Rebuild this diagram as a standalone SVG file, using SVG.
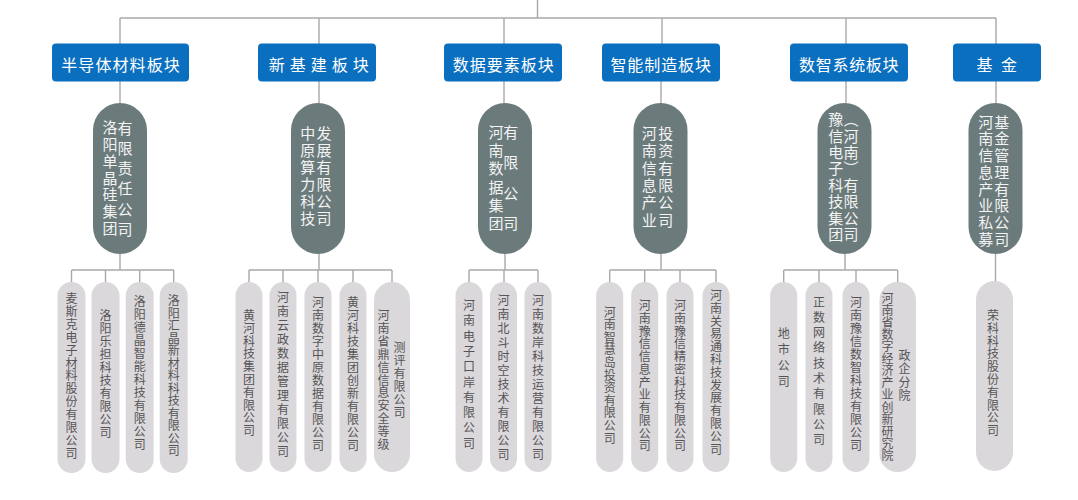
<svg xmlns="http://www.w3.org/2000/svg" width="1078" height="500" viewBox="0 0 1078 500">
<style>
.bg{fill:#ffffff}
.conn{stroke:#a9a9a9;stroke-width:1.4;fill:none}
.hdr rect{fill:#0b6fbf}
.hdr text{fill:#ffffff;font-family:"Noto Sans CJK SC","Noto Sans",sans-serif;font-size:16px;text-anchor:middle;dominant-baseline:central}
.mid rect{fill:#6b7b7b}
.mid text{fill:#f3f3f3;font-family:"Noto Sans CJK SC","Noto Sans",sans-serif;font-size:15px;writing-mode:vertical-rl}
.leaf rect{fill:#dbd8dc}
.leaf text{fill:#555555;font-family:"Noto Sans CJK SC","Noto Sans",sans-serif;font-size:12px;writing-mode:vertical-rl}
</style>
<rect class="bg" x="0" y="0" width="1078" height="500"/>
<g id="connectors">
<path class="conn" d="M537.5 0V18M120 18H996M120 18V44M319 18V44M504 18V44M662 18V44M846 18V44M996 18V44"/>
<path class="conn" d="M120 81V103M319 81V103M504 81V103M661 81V103M846 81V103M996 81V103"/>
<path class="conn" d="M120 254V270M71.5 270H173.7M71.5 270V282M105.5 270V282M139.7 270V282M173.7 270V282"/>
<path class="conn" d="M319 254V270M249 270H392M249 270V282M283 270V282M318 270V282M353 270V282M392 270V282"/>
<path class="conn" d="M505 254V270M469 270H538M469 270V282M504 270V282M538 270V282"/>
<path class="conn" d="M661 254V270M609.7 270H716M609.7 270V282M644.7 270V282M680 270V282M716 270V282"/>
<path class="conn" d="M845 254V270M783.7 270H897.7M783.7 270V282M819 270V282M856 270V282M897.7 270V282"/>
<path class="conn" d="M995.5 254V282"/>
</g>
<g id="h1" class="hdr"><rect x="52" y="43.5" width="137" height="38" rx="4"/><text x="120.5" y="63.5" textLength="118.5" lengthAdjust="spacing">半导体材料板块</text></g>
<g id="h2" class="hdr"><rect x="258" y="43.5" width="118" height="38" rx="4"/><text x="318.8" y="63.5" textLength="100" lengthAdjust="spacing">新 基 建 板 块</text></g>
<g id="h3" class="hdr"><rect x="444" y="43.5" width="118" height="38" rx="4"/><text x="503.3" y="63.5" textLength="101" lengthAdjust="spacing">数据要素板块</text></g>
<g id="h4" class="hdr"><rect x="602" y="43.5" width="118" height="38" rx="4"/><text x="660.7" y="63.5" textLength="100.5" lengthAdjust="spacing">智能制造板块</text></g>
<g id="h5" class="hdr"><rect x="790" y="43.5" width="118" height="38" rx="4"/><text x="848.8" y="63.5" textLength="99.6" lengthAdjust="spacing">数智系统板块</text></g>
<g id="h6" class="hdr"><rect x="953" y="43.5" width="88" height="38" rx="4"/><text x="996.8" y="63.5" textLength="40.5" lengthAdjust="spacing">基 金</text></g>

<g id="m1" class="mid"><rect x="93" y="103" width="54" height="151" rx="27"/><text x="110" y="119.5" style="letter-spacing:1.95px">洛阳单晶硅集团</text><text x="125" y="121" style="letter-spacing:5.1px">有限责任公司</text></g>
<g id="m2" class="mid"><rect x="291" y="103" width="54" height="151" rx="27"/><text x="307.7" y="126" style="letter-spacing:2px">中原算力科技</text><text x="324" y="126" style="letter-spacing:2px">发展有限公司</text></g>
<g id="m3" class="mid"><rect x="478" y="103" width="54" height="151" rx="27"/><text x="496" y="124.5" style="letter-spacing:3.3px">河南数据集团</text><text x="510.7" y="124.5" style="letter-spacing:15.6px">有限公司</text></g>
<g id="m4" class="mid"><rect x="633.5" y="103" width="54" height="151" rx="27"/><text x="649.3" y="126" style="letter-spacing:2.3px">河南信息产业</text><text x="665.7" y="126" style="letter-spacing:2.3px">投资有限公司</text></g>
<g id="m5" class="mid"><rect x="817.5" y="103" width="54" height="151" rx="27"/><text x="835.7" y="112" style="letter-spacing:1.4px">豫信电子科技集团</text><text x="851" y="112" style="letter-spacing:1.4px">（河南）有限公司</text></g>
<g id="m6" class="mid"><rect x="968.5" y="103" width="54" height="151" rx="27"/><text x="985.7" y="114.5" style="letter-spacing:1.76px">河南信息产业私募</text><text x="1001.7" y="114.5" style="letter-spacing:1.76px">基金管理有限公司</text></g>

<g id="l1a" class="leaf"><rect x="57.5" y="282" width="28" height="191" rx="14"/><text x="71.5" y="292.5" style="letter-spacing:0.9px">麦斯克电子材料股份有限公司</text></g>
<g id="l1b" class="leaf"><rect x="91.5" y="282" width="28" height="191" rx="14"/><text x="105.5" y="309.5" style="letter-spacing:1px">洛阳乐担科技有限公司</text></g>
<g id="l1c" class="leaf"><rect x="125.7" y="282" width="28" height="191" rx="14"/><text x="139.7" y="295.5" style="letter-spacing:1px">洛阳德晶智能科技有限公司</text></g>
<g id="l1d" class="leaf"><rect x="159.7" y="282" width="28" height="191" rx="14"/><text x="173.7" y="294.5" style="letter-spacing:0.5px">洛阳汇晶新材料科技有限公司</text></g>

<g id="l2a" class="leaf"><rect x="235.5" y="282" width="27" height="190" rx="13.5"/><text x="249" y="309.5" style="letter-spacing:0.8px">黄河科技集团有限公司</text></g>
<g id="l2b" class="leaf"><rect x="269.5" y="282" width="27" height="190" rx="13.5"/><text x="283" y="291" style="letter-spacing:2px">河南云政数据管理有限公司</text></g>
<g id="l2c" class="leaf"><rect x="304.5" y="282" width="27" height="190" rx="13.5"/><text x="318" y="296" style="letter-spacing:1px">河南数字中原数据有限公司</text></g>
<g id="l2d" class="leaf"><rect x="339.5" y="282" width="27" height="190" rx="13.5"/><text x="353" y="296.5" style="letter-spacing:1px">黄河科技集团创新有限公司</text></g>
<g id="l2e" class="leaf"><rect x="374" y="282" width="36" height="190" rx="18"/><text x="383.5" y="309.5" style="letter-spacing:0.9px">河南省鼎信信息安全等级</text><text x="399.5" y="341" style="letter-spacing:1px">测评有限公司</text></g>

<g id="l3a" class="leaf"><rect x="455.5" y="282" width="27" height="190" rx="13.5"/><text x="469" y="299.5" style="letter-spacing:3.3px">河南电子口岸有限公司</text></g>
<g id="l3b" class="leaf"><rect x="490" y="282" width="27" height="190" rx="13.5"/><text x="503.5" y="294.5" style="letter-spacing:2px">河南北斗时空技术有限公司</text></g>
<g id="l3c" class="leaf"><rect x="524.5" y="282" width="27" height="190" rx="13.5"/><text x="538" y="294.5" style="letter-spacing:2px">河南数岸科技运营有限公司</text></g>

<g id="l4a" class="leaf"><rect x="596.2" y="282" width="27" height="190" rx="13.5"/><text x="609.7" y="306" style="letter-spacing:0.6px">河南智慧岛投资有限公司</text></g>
<g id="l4b" class="leaf"><rect x="631.2" y="282" width="27" height="190" rx="13.5"/><text x="644.7" y="299.5" style="letter-spacing:0.75px">河南豫信信息产业有限公司</text></g>
<g id="l4c" class="leaf"><rect x="666.5" y="282" width="27" height="190" rx="13.5"/><text x="680" y="299.5" style="letter-spacing:0.75px">河南豫信精密科技有限公司</text></g>
<g id="l4d" class="leaf"><rect x="702.5" y="282" width="27" height="190" rx="13.5"/><text x="716" y="289.5" style="letter-spacing:0.8px">河南关易通科技发展有限公司</text></g>

<g id="l5a" class="leaf"><rect x="770.2" y="282" width="27" height="190" rx="13.5"/><text x="783.7" y="327.5" style="letter-spacing:4px">地市公司</text></g>
<g id="l5b" class="leaf"><rect x="805.5" y="282" width="27" height="190" rx="13.5"/><text x="819" y="296" style="letter-spacing:3.3px">正数网络技术有限公司</text></g>
<g id="l5c" class="leaf"><rect x="842.5" y="282" width="27" height="190" rx="13.5"/><text x="856" y="296" style="letter-spacing:1px">河南豫信数智科技有限公司</text></g>
<g id="l5d" class="leaf"><rect x="879.5" y="282" width="36.5" height="190" rx="18"/><text x="887.5" y="292.5" style="letter-spacing:0.05px">河南省数字经济产业创新研究院</text><text x="904.5" y="349.5" style="letter-spacing:1.3px">政企分院</text></g>

<g id="l6a" class="leaf"><rect x="976" y="281" width="37" height="190" rx="18.5"/><text x="993" y="309.5" style="letter-spacing:0.8px">荣科科技股份有限公司</text></g>
</svg>
